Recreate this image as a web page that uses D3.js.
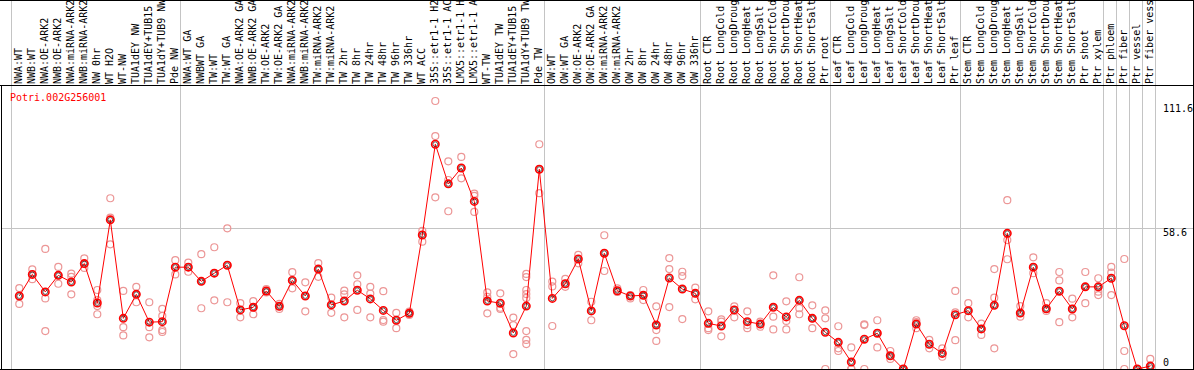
<!DOCTYPE html>
<html>
<head>
<meta charset="utf-8">
<script src="https://cdn.jsdelivr.net/npm/d3@7"></script>
<style>
  body { margin: 0; background: #fff; }
  svg text { font-family: "DejaVu Sans Mono", monospace; font-size: 10px; }
</style>
</head>
<body>
<div id="chart"></div>
<script>
// gene shown
var geneId = "Potri.002G256001";

// sample labels (as shown, cut to 14 chars)
var samples = [
  "NWA:WT", "NWB:WT", "NWA:OE-ARK2", "NWB:OE-ARK2", "NWA:miRNA-ARK2", "NWB:miRNA-ARK2", "NW 0hr", "WT H2O", "WT-NW",
  "TUA1dEY NW", "TUA1dEY+TUB15", "TUA1dY+TUB9 NW", "Pde NW",
  "NWA:WT GA", "NWBWT GA", "TW:WT", "TW:WT GA", "NWA:OE-ARK2 GA", "NWB:OE-ARK2 GA", "TW:OE-ARK2", "TW:OE-ARK2 GA",
  "NWA:miRNA-ARK2", "NWB:miRNA-ARK2", "TW:miRNA-ARK2", "TW:miRNA-ARK2", "TW 2hr", "TW 8hr", "TW 24hr", "TW 48hr",
  "TW 96hr", "TW 336hr", "WT ACC", "35S::etr1-1 H2", "35S::etr1-1 AC", "LMX5::etr1-1 H", "LMX5::etr1-1 A", "WT-TW",
  "TUA1dEY TW", "TUA1dEY+TUB15", "TUA1dY+TUB9 TW", "Pde TW",
  "OW:WT", "OW:WT GA", "OW:OE-ARK2", "OW:OE-ARK2 GA", "OW:miRNA-ARK2", "OW:miRNA-ARK2", "OW 2hr", "OW 8hr",
  "OW 24hr", "OW 48hr", "OW 96hr", "OW 336hr",
  "Root CTR", "Root LongCold", "Root LongDroug", "Root LongHeat", "Root LongSalt", "Root ShortCold", "Root ShortDrou",
  "Root ShortHeat", "Root ShortSalt", "Ptr root",
  "Leaf CTR", "Leaf LongCold", "Leaf LongDroug", "Leaf LongHeat", "Leaf LongSalt", "Leaf ShortCold", "Leaf ShortDrou",
  "Leaf ShortHeat", "Leaf ShortSalt", "Ptr leaf",
  "Stem CTR", "Stem LongCold", "Stem LongDroug", "Stem LongHeat", "Stem LongSalt", "Stem ShortCold", "Stem ShortDrou",
  "Stem ShortHeat", "Stem ShortSalt", "Ptr shoot", "Ptr xylem",
  "Ptr phloem", "Ptr fiber", "Ptr vessel", "Ptr fiber vess"
];

// index where each sample group starts (last one = end)
var groupStarts = [0, 13, 41, 53, 63, 73, 84, 85, 86, 87, 88];

// mean expression per sample
var means = [
  30.4, 39.4, 32.1, 39.0, 36.2, 43.9, 27.5, 62.1, 21.1, 31.1, 19.5, 19.7, 42.4,
  42.4, 36.5, 39.9, 43.2, 24.6, 25.7, 32.5, 26.1, 36.9, 30.4, 41.6, 26.7, 28.3, 32.8, 29.2, 24.4,
  20.3, 23.2, 55.8, 93.6, 77.1, 83.7, 69.8, 28.3, 27.4, 15.0, 26.2, 83.2,
  29.4, 35.5, 45.8, 24.2, 48.2, 32.6, 30.4, 30.7, 18.3, 37.9, 33.3, 31.5,
  19.0, 17.9, 24.6, 19.7, 18.7, 25.7, 21.7, 28.6, 21.1, 15.3,
  11.1, 2.9, 12.4, 14.9, 5.5, 0, 18.7, 10.3, 6.5, 22.6,
  24.3, 16.7, 26.5, 56.5, 23.3, 42.4, 25.1, 32.4, 25.0, 34.2, 34.2,
  37.8, 18.0, 0, 1.2
];

// replicate values per sample
var reps = [
  [33.7, 30.4, 27.1], [41.5, 39.4, 37.4], [50.0, 29.4, 15.8], [42.5, 39.0, 35.5], [39.7, 38.4, 31.1],
  [46.1, 43.7, 42.1], [32.9, 28.7, 26.2, 22.8], [71.1, 63.0, 51.9], [32.5, 17.4, 14.0], [34.2, 31.2, 27.8],
  [27.8, 17.4, 13.2], [25.0, 22.1, 16.2, 15.4], [45.3, 42.4, 39.4],
  [44.3, 42.4, 40.5], [47.8, 36.5, 25.3], [50.7, 39.9, 28.6], [58.6, 43.2, 27.8], [27.4, 24.6, 21.5],
  [28.3, 25.7, 22.8], [33.3, 32.5, 31.9], [27.1, 26.1, 25.0], [40.3, 36.9, 33.6], [36.1, 30.4, 24.0],
  [44.1, 41.6, 38.4], [29.7, 26.7, 23.4], [32.6, 31.1, 21.5], [39.0, 35.3, 24.6], [34.2, 31.4, 21.5],
  [32.4, 20.4, 19.7], [23.4, 20.3, 17.0], [23.9, 23.2, 22.5], [57.5, 55.8, 53.0], [111.6, 97.0, 71.5],
  [86.5, 78.7, 65.7], [88.3, 83.7, 79.4], [73.0, 72.1, 65.4], [31.9, 30.0, 23.2], [31.5, 25.5, 25.0],
  [21.4, 18.3, 6.2], [39.6, 38.3, 32.9, 31.2, 29.6, 15.8, 12.1, 10.4], [93.6, 83.2, 73.2],
  [36.4, 34.4, 17.9], [37.5, 35.5, 34.2], [47.5, 45.8, 44.0], [28.0, 24.2, 20.3], [55.7, 48.2, 40.8],
  [33.6, 32.2, 32.1], [30.8, 30.4, 29.4], [32.9, 30.7, 28.7], [26.1, 16.2, 11.7], [46.2, 41.6, 25.8],
  [40.5, 38.7, 20.8], [33.9, 31.5, 29.0],
  [24.0, 17.0, 16.2], [20.7, 19.7, 13.6], [26.1, 24.6, 21.5], [24.0, 18.3, 17.0], [19.7, 18.7, 17.6],
  [39.0, 21.8, 16.5], [28.2, 20.0, 16.5], [38.2, 25.3, 22.8], [26.5, 21.1, 17.0], [24.4, 21.1, 0],
  [17.8, 8.6, 7.5], [9.0, 0, 0], [18.6, 18.3, 0], [20.3, 15.0, 9.0], [7.5, 5.5, 4.2],
  [0, 0, 0], [20.3, 19.5, 17.0], [12.1, 10.3, 8.6], [8.6, 6.5, 5.1], [32.5, 23.6, 12.0],
  [27.4, 24.3, 21.5], [18.9, 16.7, 14.2], [41.6, 29.7, 8.6], [70.3, 53.7, 45.7], [26.2, 23.3, 21.8],
  [46.5, 42.4, 39.9], [27.4, 25.1, 24.2], [40.4, 36.9, 19.5], [29.3, 25.0, 21.5], [40.4, 34.2, 27.4],
  [37.8, 32.2, 30.8],
  [42.5, 40.1, 30.8], [45.8, 7.5, 0], [0, 0, 0], [4.2, 1.2, 0]
];

// labels on the right side
var yTicks = [111.6, 58.6, 0];
var gridValues = [58.6];

var width = 1194, height = 370;
var plotTop = 85, plotBottom = 369, plotLeft = 1, plotRight = 1193;

var xScale = d3.scaleLinear().domain([0, samples.length - 1]).range([19.3, 1150.3]);
var yScale = d3.scaleLinear().domain([0, 111.6]).range([369, 101]);

var svg = d3.select("#chart").append("svg")
  .attr("width", width)
  .attr("height", height);

svg.append("defs").append("clipPath")
  .attr("id", "plotclip")
  .append("rect")
  .attr("x", plotLeft).attr("y", plotTop)
  .attr("width", plotRight - plotLeft).attr("height", plotBottom - plotTop);

// horizontal grid line
svg.selectAll("line.hgrid")
  .data(gridValues)
  .enter().append("line")
  .attr("class", "hgrid")
  .attr("x1", plotLeft).attr("x2", plotRight)
  .attr("y1", function(d) { return Math.round(yScale(d)) + 0.5; })
  .attr("y2", function(d) { return Math.round(yScale(d)) + 0.5; })
  .attr("stroke", "#c4c4c4");

// group separators, full height
svg.selectAll("line.vgrid")
  .data(groupStarts)
  .enter().append("line")
  .attr("class", "vgrid")
  .attr("x1", function(d) { return Math.round(xScale(d) - 8.2) + 0.5; })
  .attr("x2", function(d) { return Math.round(xScale(d) - 8.2) + 0.5; })
  .attr("y1", 0).attr("y2", plotBottom)
  .attr("stroke", "#c4c4c4");

// frame
svg.append("line").attr("x1", 0).attr("x2", width).attr("y1", 0.5).attr("y2", 0.5).attr("stroke", "#000");
svg.append("line").attr("x1", 0).attr("x2", width).attr("y1", plotTop + 0.5).attr("y2", plotTop + 0.5).attr("stroke", "#000");
svg.append("line").attr("x1", 0).attr("x2", width).attr("y1", plotBottom + 0.5).attr("y2", plotBottom + 0.5).attr("stroke", "#000");
svg.append("line").attr("x1", plotLeft + 0.5).attr("x2", plotLeft + 0.5).attr("y1", plotTop).attr("y2", plotBottom).attr("stroke", "#000");
svg.append("line").attr("x1", plotRight + 0.5).attr("x2", plotRight + 0.5).attr("y1", 0).attr("y2", plotBottom).attr("stroke", "#000");

// sample labels, rotated
svg.append("g").selectAll("text")
  .data(samples)
  .enter().append("text")
  .attr("transform", function(d, i) { return "translate(" + (xScale(i) + 3) + ",84) rotate(-90)"; })
  .attr("fill", "#000")
  .text(function(d) { return d; });

// right axis labels
svg.append("g").selectAll("text")
  .data(yTicks)
  .enter().append("text")
  .attr("x", 1163)
  .attr("y", function(d) { return Math.max(108, Math.min(yScale(d) + 4, 362)); })
  .attr("dominant-baseline", "central")
  .attr("fill", "#000")
  .text(function(d) { return d; });

// title
svg.append("text")
  .attr("x", 10)
  .attr("y", 101)
  .attr("fill", "#ff0000")
  .text(geneId);

var plot = svg.append("g").attr("clip-path", "url(#plotclip)");

// replicates
var repPoints = [];
reps.forEach(function(r, i) {
  r.forEach(function(v) { repPoints.push({i: i, v: v}); });
});

plot.selectAll("circle.rep")
  .data(repPoints)
  .enter().append("circle")
  .attr("class", "rep")
  .attr("cx", function(d) { return xScale(d.i); })
  .attr("cy", function(d) { return yScale(d.v); })
  .attr("r", 3.5)
  .attr("fill", "none")
  .attr("stroke", "#ec9696")
  .attr("stroke-width", 1.2);

// mean line
var line = d3.line()
  .x(function(d, i) { return xScale(i); })
  .y(function(d) { return yScale(d); });

plot.append("path")
  .datum(means)
  .attr("d", line)
  .attr("fill", "none")
  .attr("stroke", "#ff0000")
  .attr("stroke-width", 1);

// mean markers
var meanDots = plot.selectAll("g.mean")
  .data(means)
  .enter().append("g")
  .attr("class", "mean")
  .attr("transform", function(d, i) { return "translate(" + xScale(i) + "," + yScale(d) + ")"; });

meanDots.append("circle")
  .attr("r", 3.7)
  .attr("fill", "none")
  .attr("stroke", "#ff0000")
  .attr("stroke-width", 1.6);

meanDots.append("circle")
  .attr("r", 2.4)
  .attr("fill", "none")
  .attr("stroke", "#000")
  .attr("stroke-width", 0.6);
</script>
</body>
</html>
